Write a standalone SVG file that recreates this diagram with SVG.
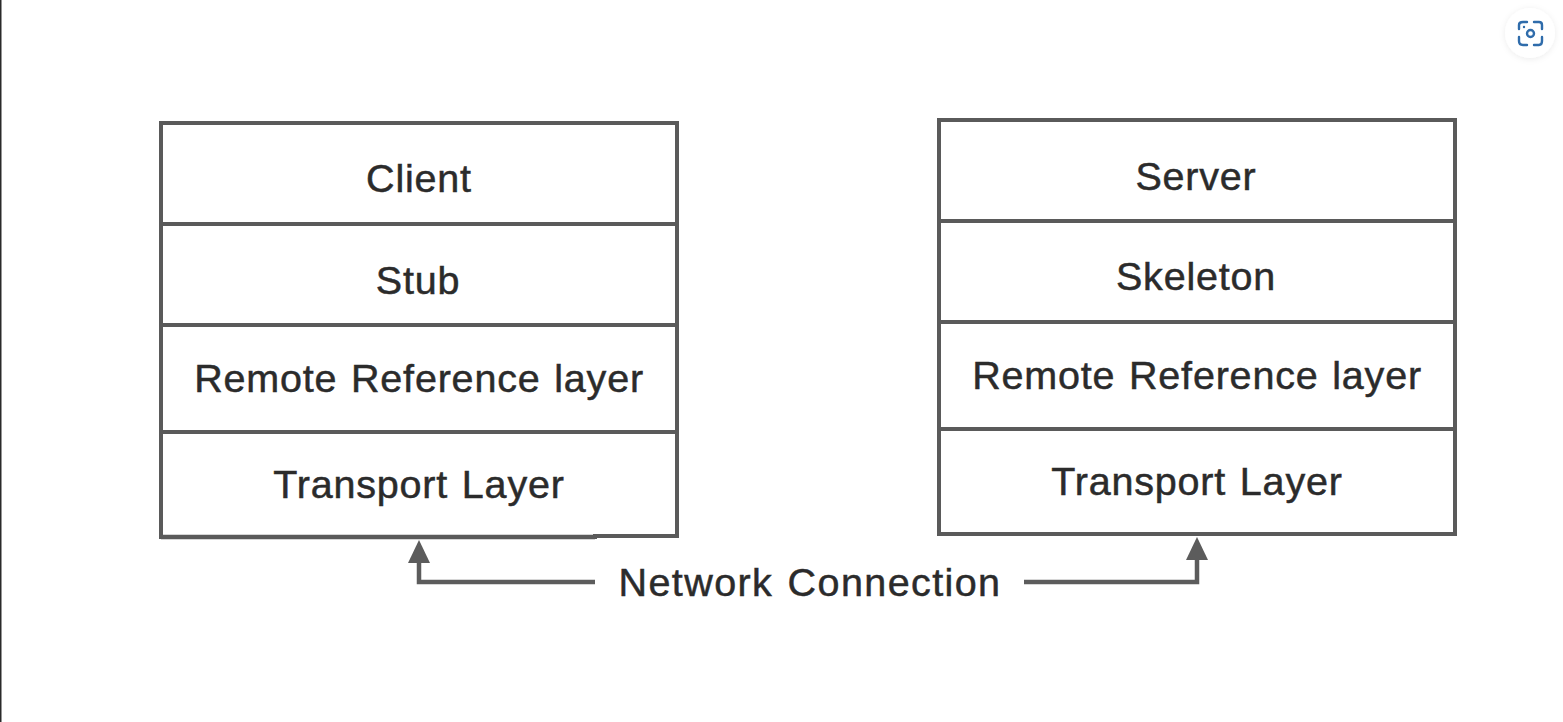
<svg xmlns="http://www.w3.org/2000/svg" width="1563" height="722" viewBox="0 0 1563 722">
<defs>
<filter id="sh" x="-30%" y="-30%" width="160%" height="160%"><feDropShadow dx="0" dy="1" stdDeviation="3" flood-color="#000" flood-opacity="0.08"/></filter>
</defs>
<style>
.box{fill:#fff;stroke:#5a5a5a;stroke-width:4}
.t{font-family:"Liberation Sans",Arial,sans-serif;font-size:39.5px;fill:#2b2b2b;stroke:#2b2b2b;stroke-width:0.5;text-anchor:middle;letter-spacing:0.8px;word-spacing:2px}
.n{letter-spacing:1.400px}
.c{fill:none;stroke:#5c5c5c;stroke-width:4.5}
.a{fill:#5c5c5c}
.ic{fill:none;stroke:#2f6cab;stroke-width:2.4;stroke-linecap:round}
</style>
<rect width="1563" height="722" fill="#fff"/>
<rect x="0" y="0" width="1.5" height="722" fill="#2a2a2a"/>
<g id="client"><rect class="box" x="161" y="123" width="516" height="101"/><text class="t" x="419" y="192">Client</text></g>
<g id="stub"><rect class="box" x="161" y="224" width="516" height="101"/><text class="t" x="418" y="294">Stub</text></g>
<g id="ref-left"><rect class="box" x="161" y="325" width="516" height="107"/><text class="t" x="419" y="392">Remote Reference layer</text></g>
<g id="transport-left"><path class="box" d="M161 432H677V536H595V537H161Z"/><path d="M161 537H595" fill="none" stroke="#5a5a5a" stroke-width="4.500"/><text class="t" x="419" y="498">Transport Layer</text></g>
<g id="server"><rect class="box" x="939" y="120" width="516" height="101"/><text class="t" x="1196" y="190">Server</text></g>
<g id="skeleton"><rect class="box" x="939" y="221" width="516" height="101"/><text class="t" x="1196" y="290">Skeleton</text></g>
<g id="ref-right"><rect class="box" x="939" y="322" width="516" height="107"/><text class="t" x="1197" y="389">Remote Reference layer</text></g>
<g id="transport-right"><rect class="box" x="939" y="429" width="516" height="105"/><text class="t" x="1197" y="495">Transport Layer</text></g>
<g id="connectors">
<path class="c" d="M595 582H419V555"/><polygon class="a" points="419,540 430,563 408,563"/>
<path class="c" d="M1024 582H1197V555"/><polygon class="a" points="1197,537 1208,560 1186,560"/>
</g>
<g id="network-label"><text class="t n" x="810" y="596">Network Connection</text></g>
<g id="camera-icon">
<circle cx="1530" cy="33" r="25" fill="#fff" filter="url(#sh)"/>
<path class="ic" d="M1519 29V25Q1519 22 1523 22H1527M1534 22H1539Q1542 22 1542 25V29M1542 37V41Q1542 45 1539 45H1534M1527 45H1523Q1519 45 1519 41V37"/>
<circle class="ic" cx="1530.500" cy="33.500" r="3.500"/>
<circle cx="1524" cy="27" r="1.200" fill="#2f6cab"/>
</g>
</svg>
